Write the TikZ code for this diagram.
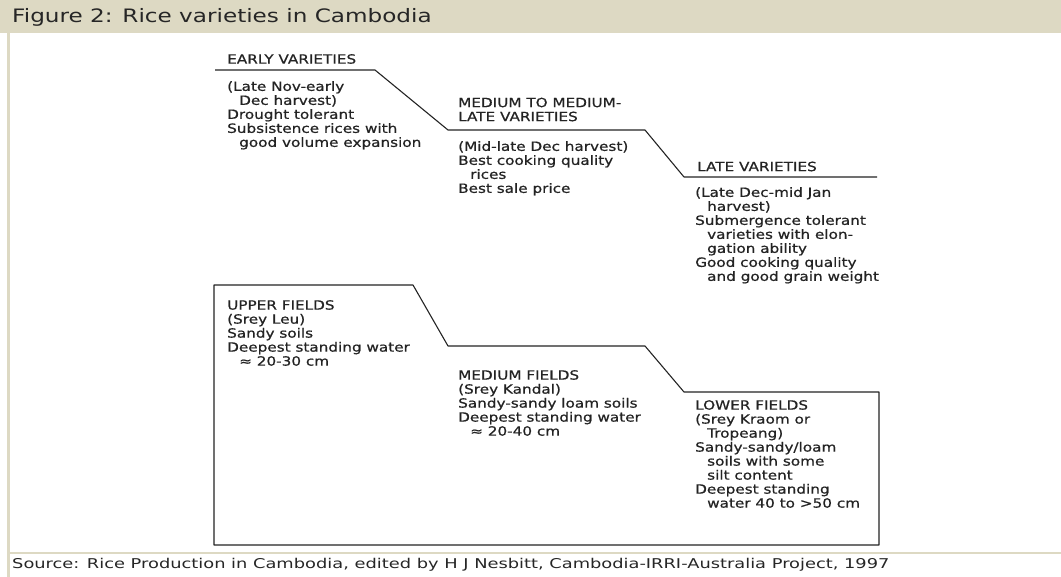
\documentclass[tikz,border=0pt]{standalone}
\usepackage{fontspec}
\usepackage{tikz}
\newfontfamily\pagefont[FakeStretch=1.25]{DejaVu Sans}
\newfontfamily\notefont[FakeStretch=1.32]{DejaVu Sans}
\newfontfamily\figfont[FakeStretch=1.2, FakeBold=0.7]{DejaVu Sans}
\definecolor{tan}{RGB}{221,217,195}
\definecolor{ink}{RGB}{35,35,35}
\newcommand{\ind}{\hspace*{12pt}}
\tikzset{
    blocktext/.style={anchor=north west, inner sep=0pt, align=left, text=ink,
        font={\figfont\fontsize{12.7}{14}\selectfont}},
    step line/.style={draw=ink, line width=1.1pt, line join=round}
}

\begin{document}
\begin{tikzpicture}[x=1pt, y=-1pt]
        \useasboundingbox (0, 0) rectangle (1061, 577);

        \fill [tan] (0, 0) rectangle (1061, 33);
        \draw [tan, line width=2.5pt] (8.5, 33) -- (8.5, 577);
        \draw [tan, line width=2.5pt] (8.5, 553) -- (1061, 553);

        \node (title) [anchor=west, inner sep=0pt, font={\pagefont\fontsize{18.5}{20}\selectfont}, text=black!85]
            at (12, 17) {Figure 2: Rice varieties in Cambodia};
        \node (source) [anchor=west, inner sep=0pt, font={\notefont\fontsize{13.5}{15}\selectfont}, text=black!85]
            at (12, 565) {Source: Rice Production in Cambodia, edited by H J Nesbitt, Cambodia-IRRI-Australia Project, 1997};

        % varieties
        \coordinate (v1) at (215, 70);
        \coordinate (v2) at (375, 70);
        \coordinate (v3) at (448, 130);
        \coordinate (v4) at (645, 130);
        \coordinate (v5) at (684, 177);
        \coordinate (v6) at (877, 177);
        \draw [step line] (v1) -- (v2) -- (v3) -- (v4) -- (v5) -- (v6);

        \node (early) [blocktext] at (227, 54) {EARLY VARIETIES};
        \node (earlytext) [blocktext] at (227, 81) {(Late Nov-early\\ \ind Dec harvest)\\Drought tolerant\\Subsistence rices with\\ \ind good volume expansion};

        \node (medium) [blocktext] at (458, 97.5) {MEDIUM TO MEDIUM-\\LATE VARIETIES};
        \node (mediumtext) [blocktext] at (458, 141) {(Mid-late Dec harvest)\\Best cooking quality\\ \ind rices\\Best sale price};

        \node (late) [blocktext] at (697, 161.5) {LATE VARIETIES};
        \node (latetext) [blocktext] at (695, 187) {(Late Dec-mid Jan\\ \ind harvest)\\Submergence tolerant\\ \ind varieties with elon-\\ \ind gation ability\\Good cooking quality\\ \ind and good grain weight};

        % fields
        \coordinate (f1) at (214, 285);
        \coordinate (f2) at (413, 285);
        \coordinate (f3) at (448, 346);
        \coordinate (f4) at (645, 346);
        \coordinate (f5) at (684, 392);
        \coordinate (f6) at (879, 392);
        \coordinate (f7) at (879, 545);
        \coordinate (f8) at (214, 545);
        \draw [step line] (f1) -- (f2) -- (f3) -- (f4) -- (f5) -- (f6) -- (f7) -- (f8) -- cycle;

        \node (upper) [blocktext] at (227, 300) {UPPER FIELDS\\(Srey Leu)\\Sandy soils\\Deepest standing water\\ \ind ≈ 20-30 cm};
        \node (mediumfields) [blocktext] at (458, 370) {MEDIUM FIELDS\\(Srey Kandal)\\Sandy-sandy loam soils\\Deepest standing water\\ \ind ≈ 20-40 cm};
        \node (lower) [blocktext] at (695, 400) {LOWER FIELDS\\(Srey Kraom or\\ \ind Tropeang)\\Sandy-sandy/loam\\ \ind soils with some\\ \ind silt content\\Deepest standing\\ \ind water 40 to >50 cm};
    \end{tikzpicture}
\end{document}
